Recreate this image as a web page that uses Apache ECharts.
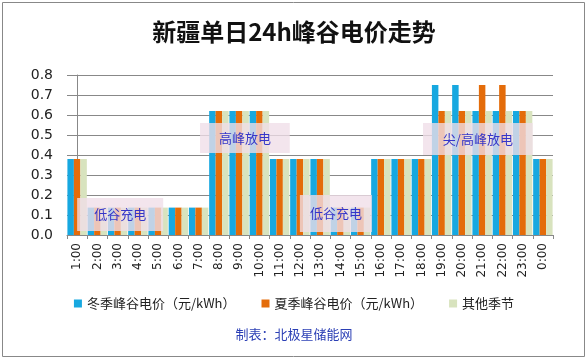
<!DOCTYPE html>
<html><head><meta charset="utf-8">
<script src="https://cdn.jsdelivr.net/npm/echarts@6/dist/echarts.min.js"></script>
<style>html,body{margin:0;padding:0;background:#fff}#c{width:588px;height:359px}</style>
</head><body><div id="c"></div>
<script>
const categories = ['1:00','2:00','3:00','4:00','5:00','6:00','7:00','8:00','9:00','10:00','11:00','12:00','13:00','14:00','15:00','16:00','17:00','18:00','19:00','20:00','21:00','22:00','23:00','0:00'];
const winter = [0.38,0.137,0.137,0.137,0.137,0.137,0.137,0.62,0.62,0.62,0.38,0.38,0.38,0.137,0.137,0.38,0.38,0.38,0.75,0.75,0.62,0.62,0.62,0.38];
const summer = [0.38,0.137,0.137,0.137,0.137,0.137,0.137,0.62,0.62,0.62,0.38,0.38,0.38,0.137,0.137,0.38,0.38,0.38,0.62,0.62,0.75,0.75,0.62,0.38];
const other  = [0.38,0.137,0.137,0.137,0.137,0.137,0.137,0.62,0.62,0.62,0.38,0.38,0.38,0.137,0.137,0.38,0.38,0.38,0.62,0.62,0.62,0.62,0.62,0.38];
const seriesNames = ['冬季峰谷电价（元/kWh）','夏季峰谷电价（元/kWh）','其他季节'];
const yTicks = {min:0, max:0.8, interval:0.1};
// annotation boxes: span in category-index units (fractional) and value span
const annotations = [
  {text:'低谷充电', from:0.0, to:4.25, low:0.02, high:0.185},
  {text:'高峰放电', from:6.07, to:10.5, low:0.41, high:0.56},
  {text:'低谷充电', from:11.0, to:14.56, low:0.015, high:0.2},
  {text:'尖/高峰放电', from:17.08, to:22.5, low:0.40, high:0.56}
];
const FONT = '"Noto Sans CJK SC","Microsoft YaHei",sans-serif';
const chart = echarts.init(document.getElementById('c'));
chart.setOption({
  animation:false,
  backgroundColor:'#fff',
  title:{text:'新疆单日24h峰谷电价走势', left:'center', top:15,
    textStyle:{fontFamily:FONT, fontSize:24, fontWeight:'bold', color:'#111'}},
  graphic:[
    {type:'rect', shape:{x:2.5,y:2.5,width:582,height:354}, style:{fill:'none', stroke:'#888', lineWidth:1}, silent:true},
    {type:'text', left:'center', top:328, style:{text:'制表：北极星储能网', fill:'#2B3FB5', font:'13px '+FONT}}
  ],
  legend:{bottom:44, left:'center', itemWidth:8, itemHeight:8, itemGap:26, icon:'rect',
    data:seriesNames,
    textStyle:{fontFamily:FONT, fontSize:13, color:'#222'}},
  grid:{left:67, right:35, top:75, bottom:124},
  xAxis:[
    {type:'category', data:categories, boundaryGap:true,
      axisLine:{lineStyle:{color:'#888'}},
      axisTick:{show:true, length:4, lineStyle:{color:'#888'}, alignWithLabel:false},
      axisLabel:{rotate:90, interval:0, fontFamily:'"DejaVu Sans",sans-serif', fontSize:12, color:'#222', margin:8}},
    {type:'value', min:-0.5, max:categories.length-0.5, show:false, position:'bottom'}
  ],
  yAxis:{type:'value', min:yTicks.min, max:yTicks.max, interval:yTicks.interval,
    axisLine:{show:true, lineStyle:{color:'#888'}},
    axisTick:{show:true, length:4, inside:false, lineStyle:{color:'#888'}},
    splitLine:{lineStyle:{color:'#888', width:1}},
    axisLabel:{formatter:v=>v.toFixed(1), fontFamily:'"DejaVu Sans",sans-serif', fontSize:14, color:'#222', margin:14}},
  series:[
    {name:seriesNames[0], type:'bar', data:winter, barGap:'0%', barCategoryGap:'4%', itemStyle:{color:'#17A8E0'}},
    {name:seriesNames[1], type:'bar', data:summer, itemStyle:{color:'#E46C0A'}},
    {name:seriesNames[2], type:'bar', data:other, itemStyle:{color:'#D8E3BE'}},
    {name:'annotations', type:'line', xAxisIndex:1, data:[], z:20, silent:true,
      markArea:{silent:true, z:20,
        itemStyle:{color:'rgba(240,222,232,0.78)'},
        label:{position:'inside', color:'#3535C8', fontFamily:FONT, fontSize:13},
        data: annotations.map(a=>[{name:a.text, xAxis:a.from, yAxis:a.low},{xAxis:a.to, yAxis:a.high}])}}
  ]
});
</script></body></html>
